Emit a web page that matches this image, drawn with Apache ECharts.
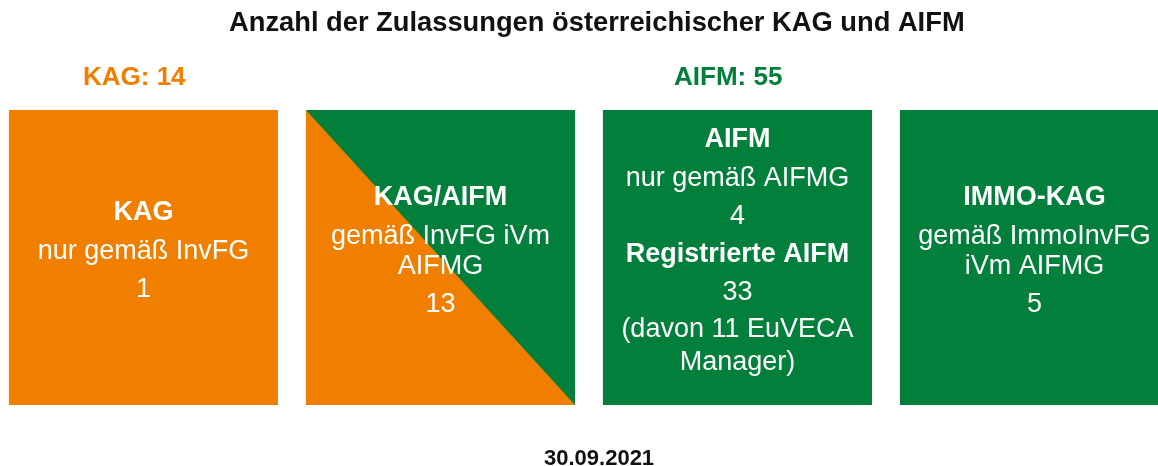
<!DOCTYPE html>
<html>
<head>
<meta charset="utf-8">
<script src="https://cdn.jsdelivr.net/npm/echarts@6/dist/echarts.min.js"></script>
<style>
  html, body { margin: 0; padding: 0; background: #fff; }
  #chart { width: 1158px; height: 466px; }
</style>
</head>
<body>
<div id="chart"></div>
<script>
const chartTitle = 'Anzahl der Zulassungen österreichischer KAG und AIFM'
const reportDate = '30.09.2021'
const groupNames = ['KAG', 'AIFM']
const groupTotals = [14, 55]

const categories = ['KAG', 'KAG/AIFM', 'AIFM', 'IMMO-KAG']
const legalBasis = [
  ['nur gemäß InvFG'],
  ['gemäß InvFG iVm', 'AIFMG'],
  ['nur gemäß AIFMG'],
  ['gemäß ImmoInvFG', 'iVm AIFMG'],
]
const counts = [1, 13, 4, 5]
// which regime a box belongs to: kag, aifm or both
const regimes = ['kag', 'both', 'aifm', 'aifm']
const registeredLabel = 'Registrierte AIFM'
const registeredCount = 33
const euvecaCount = 11

const ORANGE = '#f07f00'
const GREEN = '#027f3b'
const FONT = '"Liberation Sans", Arial, sans-serif'

// build the text lines of each box: [text, bold, gapBefore]
const boxLines = categories.map((cat, i) => {
  const lines = [[cat, true, 0]]
  legalBasis[i].forEach((t, j) => lines.push([t, false, j === 0 ? 39 : 30]))
  lines.push([String(counts[i]), false, 38])
  if (cat === 'AIFM') {
    lines.push([registeredLabel, true, 38])
    lines.push([String(registeredCount), false, 38])
    lines.push(['(davon ' + euvecaCount + ' EuVECA', false, 37])
    lines.push(['Manager)', false, 33])
  }
  return lines
})

const chart = echarts.init(document.getElementById('chart'))

const renderBox = (params, api) => {
  const idx = api.value(0)
  const top = api.coord([idx, 1])
  const bottom = api.coord([idx, 0])
  const w = api.size([1, 0])[0] * 0.906
  const x0 = top[0] - w / 2
  const x1 = top[0] + w / 2
  const y0 = top[1]
  const y1 = bottom[1]
  const regime = regimes[idx]
  const children = [{
    type: 'rect',
    shape: { x: x0, y: y0, width: w, height: y1 - y0 },
    style: { fill: regime === 'aifm' ? GREEN : ORANGE },
  }]
  if (regime === 'both') {
    children.push({
      type: 'polygon',
      shape: { points: [[x0, y0], [x1, y0], [x1, y1]] },
      style: { fill: GREEN },
    })
  }
  const lines = boxLines[idx]
  let acc = 0
  const offs = lines.map((l) => (acc += l[2]))
  const mid = (y0 + y1) / 2 - 6 - acc / 2
  lines.forEach((l, k) => {
    children.push({
      type: 'text',
      x: top[0],
      y: mid + offs[k],
      style: {
        text: l[0],
        fill: '#fff',
        font: (l[1] ? 'bold ' : '') + '27px ' + FONT,
        align: 'center',
        verticalAlign: 'middle',
      },
    })
  })
  return { type: 'group', children }
}

chart.setOption({
  animation: false,
  title: [
    {
      text: chartTitle, left: 229, top: 10, padding: 0,
      textStyle: { fontFamily: FONT, fontSize: 27.3, fontWeight: 'bold', color: '#111' },
    },
    {
      text: groupNames[0] + ': ' + groupTotals[0], left: 83, top: 65, padding: 0,
      textStyle: { fontFamily: FONT, fontSize: 26, fontWeight: 'bold', color: ORANGE },
    },
    {
      text: groupNames[1] + ': ' + groupTotals[1], left: 674, top: 65, padding: 0,
      textStyle: { fontFamily: FONT, fontSize: 26, fontWeight: 'bold', color: GREEN },
    },
    {
      text: reportDate, left: 544, top: 448, padding: 0,
      textStyle: { fontFamily: FONT, fontSize: 22, fontWeight: 'bold', color: '#111' },
    },
  ],
  grid: { left: 0, right: 0, top: 110, bottom: 61 },
  // the last box runs off the right edge, so the x range ends inside it
  xAxis: { type: 'value', min: -0.483, max: 3.416, show: false },
  yAxis: { type: 'value', min: 0, max: 1, show: false },
  series: [{
    type: 'custom',
    renderItem: renderBox,
    encode: { x: 0, y: 1 },
    data: categories.map((c, i) => [i, 1]),
  }],
})
</script>
</body>
</html>
